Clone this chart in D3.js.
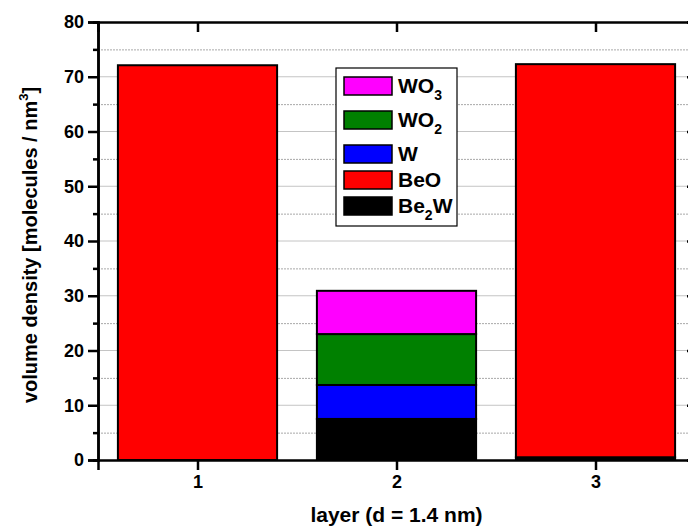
<!DOCTYPE html>
<html>
<head>
<meta charset="utf-8">
<script src="https://cdn.jsdelivr.net/npm/d3@7"></script>
<style>
  body { margin: 0; background: #fff; }
  svg { display: block; font-family: "Liberation Sans", Arial, sans-serif; font-weight: bold; }
</style>
</head>
<body>
<svg id="chart" width="688" height="526"></svg>
<script>
// values
const layers = [1, 2, 3];
const be2w = [0, 7.5, 0.5];
const beo  = [72.1, 0, 71.8];
const wAtoms = [0, 6.2, 0];
const wo2  = [0, 9.3, 0];
const wo3  = [0, 7.9, 0];
const species = ["Be2W", "BeO", "W", "WO2", "WO3"];
const colors  = ["#000000", "#ff0000", "#0000ff", "#008000", "#ff00ff"];
const yMajor = [0, 10, 20, 30, 40, 50, 60, 70, 80];
const yMinor = [5, 15, 25, 35, 45, 55, 65, 75];

var svg = d3.select("#chart"),
    pLeft = 98, pRight = 695, pTop = 22, pBottom = 460;

var x = d3.scaleLinear().domain([0.5, 3.5]).range([pLeft, pRight]);
var y = d3.scaleLinear().domain([0, 80]).range([pBottom, pTop]);
var color = d3.scaleOrdinal().domain(species).range(colors);

var table = layers.map(function (l, i) {
    return { layer: l, Be2W: be2w[i], BeO: beo[i], W: wAtoms[i], WO2: wo2[i], WO3: wo3[i] };
});
var series = d3.stack().keys(species)(table);

// grid
svg.append("g").selectAll("line").data(yMajor.slice(1, -1)).join("line")
    .attr("x1", pLeft).attr("x2", pRight)
    .attr("y1", d => y(d)).attr("y2", d => y(d))
    .attr("stroke", "#c4c4c4").attr("stroke-width", 1);
svg.append("g").selectAll("line").data(yMinor).join("line")
    .attr("x1", pLeft).attr("x2", pRight)
    .attr("y1", d => y(d) + 0.5).attr("y2", d => y(d) + 0.5)
    .attr("stroke", "#a8a8a8").attr("stroke-width", 1).attr("stroke-dasharray", "2,1");

// bars
var bw = x(1.4) - x(0.6);
svg.append("g").selectAll("g").data(series).join("g")
    .attr("fill", d => color(d.key))
    .selectAll("rect").data(d => d.filter(p => p[1] - p[0] > 0)).join("rect")
    .attr("x", d => x(d.data.layer) - bw / 2)
    .attr("width", bw)
    .attr("y", d => y(d[1]))
    .attr("height", d => y(d[0]) - y(d[1]))
    .attr("stroke", "#000").attr("stroke-width", 2);

// axes
svg.append("g").attr("transform", "translate(" + pLeft + ",0)")
    .call(d3.axisLeft(y).tickValues(yMajor).tickSize(10).tickPadding(4));
svg.append("g").attr("transform", "translate(" + pLeft + ",0)")
    .call(d3.axisLeft(y).tickValues(yMinor).tickSize(5).tickFormat(""));
svg.append("g").attr("transform", "translate(0," + pBottom + ")")
    .call(d3.axisBottom(x).tickValues(layers).tickSize(10).tickPadding(5).tickFormat(d3.format("d")));
svg.append("g").attr("transform", "translate(0," + pTop + ")")
    .call(d3.axisBottom(x).tickValues(layers).tickSize(10).tickFormat(""));
svg.append("g").attr("transform", "translate(" + pRight + ",0)")
    .call(d3.axisLeft(y).tickValues(yMajor).tickSize(8).tickFormat(""));

svg.selectAll(".domain").attr("stroke", "#000").attr("stroke-width", 2.5);
svg.selectAll(".tick line").attr("stroke", "#000").attr("stroke-width", 2.5);
svg.selectAll(".tick text").attr("font-size", 18).attr("font-weight", "bold")
    .attr("font-family", "Liberation Sans, Arial, sans-serif").attr("fill", "#000");

// axis titles
svg.append("text").attr("x", (pLeft + pRight) / 2).attr("y", 522)
    .attr("text-anchor", "middle").attr("font-size", 21).text("layer (d = 1.4 nm)");
var yt = svg.append("text").attr("transform", "translate(37,245) rotate(-90)")
    .attr("text-anchor", "middle").attr("font-size", 20);
yt.append("tspan").text("volume density [molecules / nm");
yt.append("tspan").attr("font-size", 13).attr("dy", -9).text("3");
yt.append("tspan").attr("dy", 9).text("]");

// legend
var legendItems = [
    { key: "WO3", base: "WO", sub: "3" },
    { key: "WO2", base: "WO", sub: "2" },
    { key: "W", base: "W", sub: "" },
    { key: "BeO", base: "BeO", sub: "" },
    { key: "Be2W", base: "Be", sub: "2", after: "W" }
];
var lg = svg.append("g");
lg.append("rect").attr("x", 336).attr("y", 68).attr("width", 121).attr("height", 158)
    .attr("fill", "#fff").attr("stroke", "#000").attr("stroke-width", 1.2);
var ly = 77;
legendItems.forEach(function (it) {
    lg.append("rect").attr("x", 344).attr("y", ly).attr("width", 48).attr("height", 18)
        .attr("fill", color(it.key)).attr("stroke", "#000").attr("stroke-width", 1.5);
    var t = lg.append("text").attr("x", 398).attr("y", ly + 16).attr("font-size", 21);
    t.append("tspan").text(it.base);
    if (it.sub) t.append("tspan").attr("font-size", 14).attr("dy", 7).text(it.sub);
    if (it.after) t.append("tspan").attr("dy", -7).text(it.after);
    ly += it.sub ? 34 : 26;
});
</script>
</body>
</html>
